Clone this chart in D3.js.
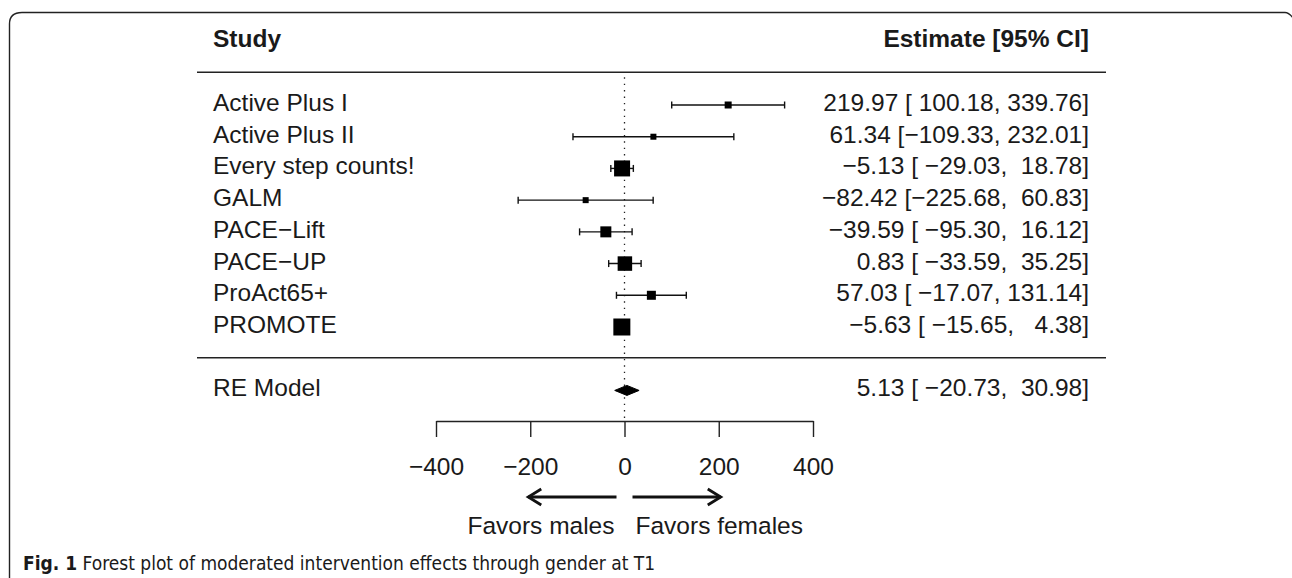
<!DOCTYPE html>
<html>
<head>
<meta charset="utf-8">
<script src="https://cdn.jsdelivr.net/npm/d3@7"></script>
<style>
  html, body { margin: 0; padding: 0; background: #fff; }
  svg { display: block; }
  text { font-family: "Liberation Sans", Arial, Helvetica, sans-serif; fill: #1a1a1a; }
  .pre { white-space: pre; }
</style>
</head>
<body>
<svg id="chart" width="1292" height="578"></svg>
<script>
// ---- data ----
const studies   = ["Active Plus I", "Active Plus II", "Every step counts!", "GALM", "PACE\u2212Lift", "PACE\u2212UP", "ProAct65+", "PROMOTE"];
const estimates = [219.97, 61.34, -5.13, -82.42, -39.59, 0.83, 57.03, -5.63];
const ciLower   = [100.18, -109.33, -29.03, -225.68, -95.30, -33.59, -17.07, -15.65];
const ciUpper   = [339.76, 232.01, 18.78, 60.83, 16.12, 35.25, 131.14, 4.38];
const weights   = [4, 2, 22, 2, 12, 19, 8, 24];   // relative study weights (box size)
const summaryLabel = "RE Model";
const summaryEst = 5.13, summaryLower = -20.73, summaryUpper = 30.98;
const xTicks = [-400, -200, 0, 200, 400];
const headerLeft = "Study", headerRight = "Estimate [95% CI]";
const favorLeft = "Favors males", favorRight = "Favors females";
const captionBold = "Fig. 1", captionText = " Forest plot of moderated intervention effects through gender at T1";

// ---- helpers ----
const minus = s => s.replace(/-/g, "\u2212");
const pad = (v, w) => { let s = v.toFixed(2); while (s.length < w) s = " " + s; return minus(s); };
const annot = (e, l, u) => minus(e.toFixed(2)) + " [" + pad(l, 7) + ", " + pad(u, 6) + "]";

const svg = d3.select("#chart");
const k = studies.length;

// frame (rounded, open at bottom/right like the source figure)
svg.append("path")
  .attr("d", "M9.5,580 L9.5,24 Q9.5,12.5 22,12.5 L1285,12.5 Q1289,12.5 1293,18")
  .attr("fill", "none").attr("stroke", "#222").attr("stroke-width", 1.4);

// scales
const x = d3.scaleLinear().domain([-400, 400]).range([436, 813]);
const y = d3.scaleLinear().domain([1, k]).range([327, 105]);   // row k at top
const box = d3.scaleLinear().domain([d3.min(weights), d3.max(weights)]).range([6, 17]);

const FS = 24.5;
const labelX = 213, annotX = 1089, ruleX0 = 197, ruleX1 = 1106;
const axisY = 421;

// header
svg.append("text").attr("x", labelX).attr("y", y(k + 2) + 5).attr("font-size", FS)
  .attr("font-weight", "bold").text(headerLeft);
svg.append("text").attr("x", annotX).attr("y", y(k + 2) + 5).attr("font-size", FS)
  .attr("font-weight", "bold").attr("text-anchor", "end").text(headerRight);

// horizontal rules
[k + 1, 0].forEach(r => {
  svg.append("line").attr("x1", ruleX0).attr("x2", ruleX1)
    .attr("y1", y(r) - 1).attr("y2", y(r) - 1)
    .attr("stroke", "#222").attr("stroke-width", 1.5);
});

// reference line at 0
svg.append("line").attr("x1", x(0)).attr("x2", x(0))
  .attr("y1", y(k + 1) + 4).attr("y2", axisY)
  .attr("stroke", "#222").attr("stroke-width", 1.3).attr("stroke-dasharray", "1.4,5");

// studies
const rows = studies.map((s, i) => ({ s, e: estimates[i], l: ciLower[i], u: ciUpper[i], w: weights[i], r: k - i }));
const g = svg.append("g");
rows.forEach(d => {
  const yy = y(d.r);
  g.append("line").attr("x1", x(d.l)).attr("x2", x(d.u)).attr("y1", yy).attr("y2", yy)
    .attr("stroke", "#111").attr("stroke-width", 1.4);
  [d.l, d.u].forEach(v => g.append("line").attr("x1", x(v)).attr("x2", x(v))
    .attr("y1", yy - 3.5).attr("y2", yy + 3.5).attr("stroke", "#111").attr("stroke-width", 1.4));
  const b = box(d.w);
  g.append("rect").attr("x", x(d.e) - b / 2).attr("y", yy - b / 2).attr("width", b).attr("height", b).attr("fill", "#000");
  g.append("text").attr("x", labelX).attr("y", yy + 6).attr("font-size", FS).text(d.s);
  g.append("text").attr("class", "pre").attr("x", annotX).attr("y", yy + 6).attr("font-size", FS)
    .attr("text-anchor", "end").text(annot(d.e, d.l, d.u));
});

// summary diamond
const sy = y(-1);
svg.append("path")
  .attr("d", `M${x(summaryLower)},${sy} L${x(summaryEst)},${sy - 5} L${x(summaryUpper)},${sy} L${x(summaryEst)},${sy + 5} Z`)
  .attr("fill", "#000").attr("stroke", "#000").attr("stroke-width", 1);
svg.append("text").attr("x", labelX).attr("y", sy + 6).attr("font-size", FS).text(summaryLabel);
svg.append("text").attr("class", "pre").attr("x", annotX).attr("y", sy + 6).attr("font-size", FS)
  .attr("text-anchor", "end").text(annot(summaryEst, summaryLower, summaryUpper));

// x axis
const ax = svg.append("g").attr("transform", `translate(0,${axisY})`)
  .call(d3.axisBottom(x).tickValues(xTicks).tickSize(16).tickSizeOuter(0).tickPadding(21)
    .tickFormat(d => minus(String(d))));
ax.select(".domain").attr("stroke", "#222").attr("stroke-width", 1.4);
ax.selectAll(".tick line").attr("stroke", "#222").attr("stroke-width", 1.4);
ax.selectAll(".tick text").attr("font-size", FS).attr("font-family", "Liberation Sans, Arial, sans-serif").attr("fill", "#1a1a1a");

// favour arrows
const arrowY = 497;
const arrow = (x0, x1) => {
  const dir = Math.sign(x1 - x0);
  svg.append("line").attr("x1", x0).attr("x2", x1).attr("y1", arrowY).attr("y2", arrowY)
    .attr("stroke", "#111").attr("stroke-width", 2.8);
  svg.append("path").attr("d", `M${x1 - dir * 13},${arrowY - 8} L${x1},${arrowY} L${x1 - dir * 13},${arrowY + 8}`)
    .attr("fill", "none").attr("stroke", "#111").attr("stroke-width", 2.8).attr("stroke-linejoin", "miter");
};
arrow(x(0) - 8, x(-200) - 2);
arrow(x(0) + 8, x(200) + 2);
svg.append("text").attr("x", x(0) - 10).attr("y", 534).attr("font-size", FS).attr("text-anchor", "end").text(favorLeft);
svg.append("text").attr("x", x(0) + 11).attr("y", 534).attr("font-size", FS).text(favorRight);

// caption
const cap = svg.append("text").attr("class", "pre").attr("x", 23).attr("y", 570)
  .attr("font-size", 19).style("font-family", "'Liberation Sans Narrow', 'DejaVu Sans Condensed', 'Open Sans', sans-serif");
cap.append("tspan").attr("font-weight", "bold").text(captionBold);
cap.append("tspan").text(captionText);
</script>
</body>
</html>
